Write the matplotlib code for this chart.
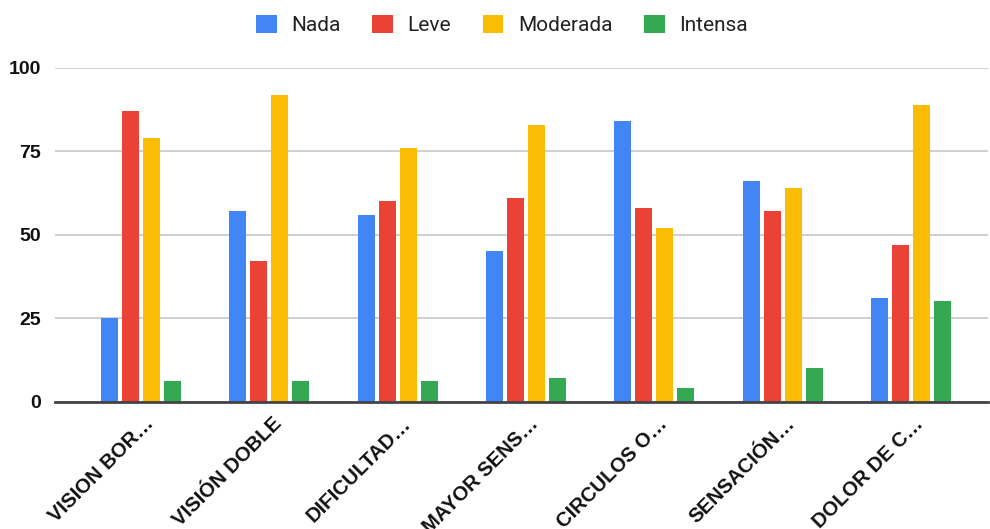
import matplotlib.pyplot as plt
import matplotlib.transforms as mtransforms
import numpy as np

categories = ["VISION BOR…", "VISIÓN DOBLE", "DIFICULTAD…", "MAYOR SENS…",
              "CIRCULOS O…", "SENSACIÓN…", "DOLOR DE C…"]
series_names = ["Nada", "Leve", "Moderada", "Intensa"]
nada = [25, 57, 56, 45, 84, 66, 31]
leve = [87, 42, 60, 61, 58, 57, 47]
moderada = [79, 92, 76, 83, 52, 64, 89]
intensa = [6, 6, 6, 7, 4, 10, 30]
y_ticks = [0, 25, 50, 75, 100]

colors = ["#4285F4", "#EA4335", "#FBBC04", "#34A853"]
series = [nada, leve, moderada, intensa]

plt.rcParams['font.family'] = ['Roboto', 'DejaVu Sans']

fig = plt.figure(figsize=(9.9, 5.29), dpi=100)
ax = fig.add_axes([55 / 990, 1 - 401.5 / 529, 933 / 990, (401.5 - 68) / 529])

x = np.arange(len(categories))
pitch = 0.1637
width = 0.1325
for k, (vals, col, name) in enumerate(zip(series, colors, series_names)):
    offs = (k - 1.5) * pitch
    ax.bar(x + offs, vals, width=width, color=col, label=name, zorder=3)

ax.set_xlim(-0.67, 6.6)
ax.set_ylim(0, 100)
ax.set_yticks(y_ticks)
ax.set_yticklabels([str(t) for t in y_ticks], fontsize=14, fontweight='bold',
                   color='#111111', family=['Liberation Sans', 'DejaVu Sans'])
ax.yaxis.grid(True, color='#cccccc', linewidth=1.3, zorder=0)
ax.tick_params(axis='y', length=0, pad=10)
ax.tick_params(axis='x', length=0, pad=4)

ax.set_xticks(x)
labels = ax.set_xticklabels(categories, rotation=45, ha='right', va='top',
                            rotation_mode='anchor', fontsize=14.6, fontweight='bold',
                            color='#111111', family=['Liberation Sans', 'DejaVu Sans'])
offset = mtransforms.ScaledTranslation(3 / 100, -7 / 100, fig.dpi_scale_trans)
for lab in labels:
    lab.set_transform(lab.get_transform() + offset)

for side in ['top', 'right', 'left']:
    ax.spines[side].set_visible(False)
ax.spines['bottom'].set_color('#444444')
ax.spines['bottom'].set_linewidth(2)
ax.spines['bottom'].set_zorder(4)

fig.legend(loc='center', bbox_to_anchor=(502 / 990, 1 - 25 / 529), ncol=4, frameon=False,
           fontsize=15, handlelength=1.0, handleheight=1.0, handletextpad=0.7,
           columnspacing=1.5, labelcolor='#222222')

fig.savefig("out.png", dpi=100)
